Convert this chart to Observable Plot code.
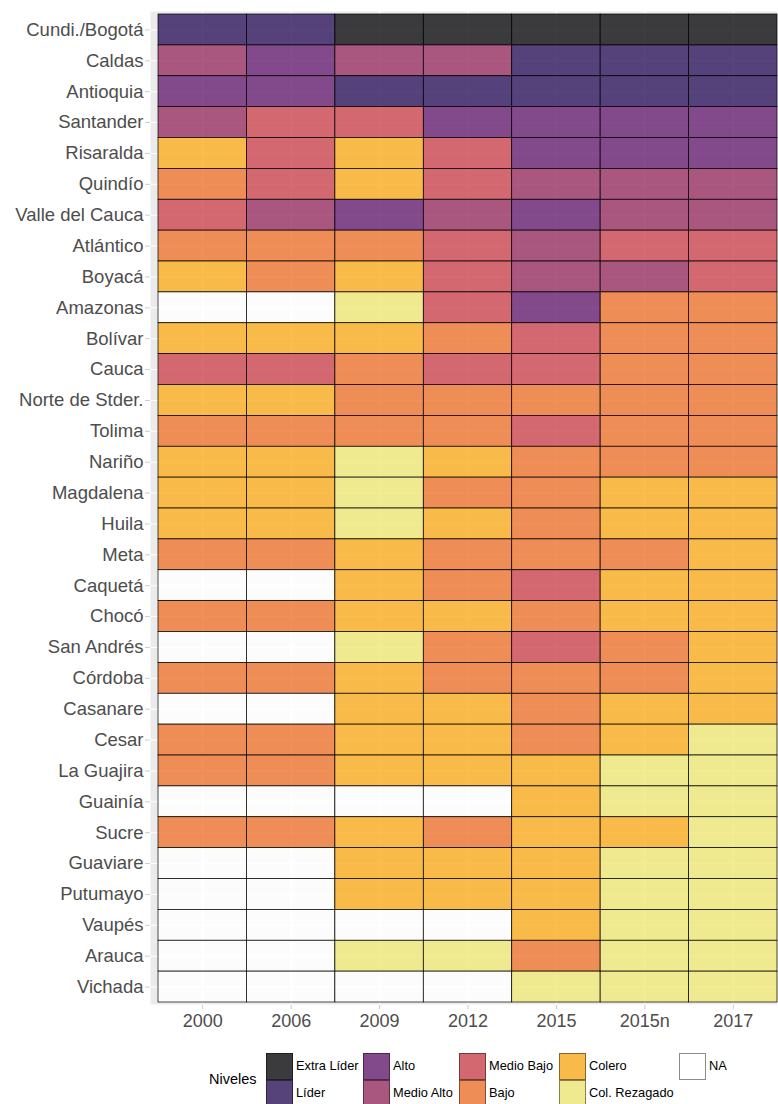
<!DOCTYPE html>
<html>
<head>
<meta charset="utf-8">
<script src="https://cdn.jsdelivr.net/npm/d3@7"></script>
<script src="https://cdn.jsdelivr.net/npm/@observablehq/plot@0.6"></script>
<style>
  html, body { margin: 0; padding: 0; background: white; }
  #wrap { position: relative; width: 778px; font-family: "Liberation Sans", Arial, sans-serif; }
  #legend { position: relative; width: 778px; height: 64px; }
  .key { position: absolute; width: 27px; height: 26.5px; box-sizing: border-box; border: 0.6px solid rgba(0,0,0,0.45); }
  .lab { position: absolute; font-size: 12.8px; color: #000; line-height: 26.5px; white-space: nowrap; }
  .title { position: absolute; font-size: 14.5px; color: #000; line-height: 20px; }
</style>
</head>
<body>
<div id="wrap"></div>
<script>
const years = ["2000", "2006", "2009", "2012", "2015", "2015n", "2017"];
const departments = [
  "Cundi./Bogotá", "Caldas", "Antioquia", "Santander", "Risaralda", "Quindío",
  "Valle del Cauca", "Atlántico", "Boyacá", "Amazonas", "Bolívar", "Cauca",
  "Norte de Stder.", "Tolima", "Nariño", "Magdalena", "Huila", "Meta", "Caquetá",
  "Chocó", "San Andrés", "Córdoba", "Casanare", "Cesar", "La Guajira", "Guainía",
  "Sucre", "Guaviare", "Putumayo", "Vaupés", "Arauca", "Vichada"
];
const levels = ["Extra Líder", "Líder", "Alto", "Medio Alto", "Medio Bajo", "Bajo", "Colero", "Col. Rezagado", "NA"];
const levelColors = ["#1c1c1e", "#3b2566", "#712e7a", "#9f3d6d", "#d0515a", "#ef7c3c", "#fab12b", "#f0ea7f", "#ffffff"];
const legendColors = ["#3b3b3d", "#55437a", "#834a8b", "#aa5780", "#d46870", "#ee8d56", "#f8ba48", "#efea8f", "#ffffff"];

// Level per department, one entry per year (2000, 2006, 2009, 2012, 2015, 2015n, 2017)
const XL = "Extra Líder", L = "Líder", A = "Alto", MA = "Medio Alto", MB = "Medio Bajo",
      B = "Bajo", C = "Colero", R = "Col. Rezagado", NA = "NA";
const levelRows = [
  [L, L, XL, XL, XL, XL, XL],
  [MA, A, MA, MA, L, L, L],
  [A, A, L, L, L, L, L],
  [MA, MB, MB, A, A, A, A],
  [C, MB, C, MB, A, A, A],
  [B, MB, C, MB, MA, MA, MA],
  [MB, MA, A, MA, A, MA, MA],
  [B, B, B, MB, MA, MB, MB],
  [C, B, C, MB, MA, MA, MB],
  [NA, NA, R, MB, A, B, B],
  [C, C, C, B, MB, B, B],
  [MB, MB, B, MB, MB, B, B],
  [C, C, B, B, B, B, B],
  [B, B, B, B, MB, B, B],
  [C, C, R, C, B, B, B],
  [C, C, R, B, B, C, C],
  [C, C, R, C, B, C, C],
  [B, B, C, B, B, B, C],
  [NA, NA, C, B, MB, C, C],
  [B, B, C, C, B, C, C],
  [NA, NA, R, B, MB, B, C],
  [B, B, C, B, B, B, C],
  [NA, NA, C, C, B, C, C],
  [B, B, C, C, B, C, R],
  [B, B, C, C, C, R, R],
  [NA, NA, NA, NA, C, R, R],
  [B, B, C, B, C, C, R],
  [NA, NA, C, C, C, R, R],
  [NA, NA, C, C, C, R, R],
  [NA, NA, NA, NA, C, R, R],
  [NA, NA, R, R, B, R, R],
  [NA, NA, NA, NA, R, R, R]
];

const data = [];
departments.forEach((d, i) => years.forEach((y, j) => data.push({dept: d, year: y, level: levelRows[i][j]})));

const chart = Plot.plot({
  width: 778,
  height: 1040,
  marginLeft: 158,
  marginRight: 1,
  marginTop: 14,
  marginBottom: 38,
  style: {fontFamily: "'Liberation Sans', Arial, sans-serif", background: "white", overflow: "visible"},
  x: {domain: years, padding: 0, round: false, axis: null, label: null},
  y: {domain: departments, padding: 0, round: false, axis: null, label: null},
  color: {domain: levels, range: levelColors},
  marks: [
    Plot.frame({fill: "#ebebeb", stroke: null, insetLeft: -8, insetTop: -3, insetBottom: -2, insetRight: 0}),
    Plot.gridX({stroke: "white", strokeOpacity: 1, strokeWidth: 1.1, insetTop: -3, insetBottom: -2}),
    Plot.gridY({stroke: "white", strokeOpacity: 1, strokeWidth: 1.1, insetLeft: -8}),
    Plot.cell(data, {x: "year", y: "dept", fill: "level", fillOpacity: 0.85, stroke: "black", strokeWidth: 0.7}),
    Plot.axisY({label: null, tickSize: 5, tickPadding: 2, dx: -8, fontSize: 18.5, fill: "#4d4d4d", stroke: "#cccccc"}),
    Plot.axisX({label: null, tickSize: 4, tickPadding: 5, dy: 3, fontSize: 18, fill: "#4d4d4d", stroke: "#cccccc"})
  ]
});
document.getElementById("wrap").appendChild(chart);

// Legend (below the SVG)
const legend = document.createElement("div");
legend.id = "legend";
const title = document.createElement("div");
title.className = "title";
title.textContent = "Niveles";
title.style.left = "209px";
title.style.top = "29px";
legend.appendChild(title);
const colX = [266, 363, 459, 559, 679];
levels.forEach((lv, i) => {
  const col = Math.floor(i / 2), row = i % 2;
  const k = document.createElement("div");
  k.className = "key";
  k.style.left = colX[col] + "px";
  k.style.top = (13 + row * 26.5) + "px";
  k.style.background = legendColors[i];
  legend.appendChild(k);
  const t = document.createElement("div");
  t.className = "lab";
  t.textContent = lv;
  t.style.left = (colX[col] + 30) + "px";
  t.style.top = (13 + row * 26.5) + "px";
  legend.appendChild(t);
});
document.getElementById("wrap").appendChild(legend);
</script>
</body>
</html>
